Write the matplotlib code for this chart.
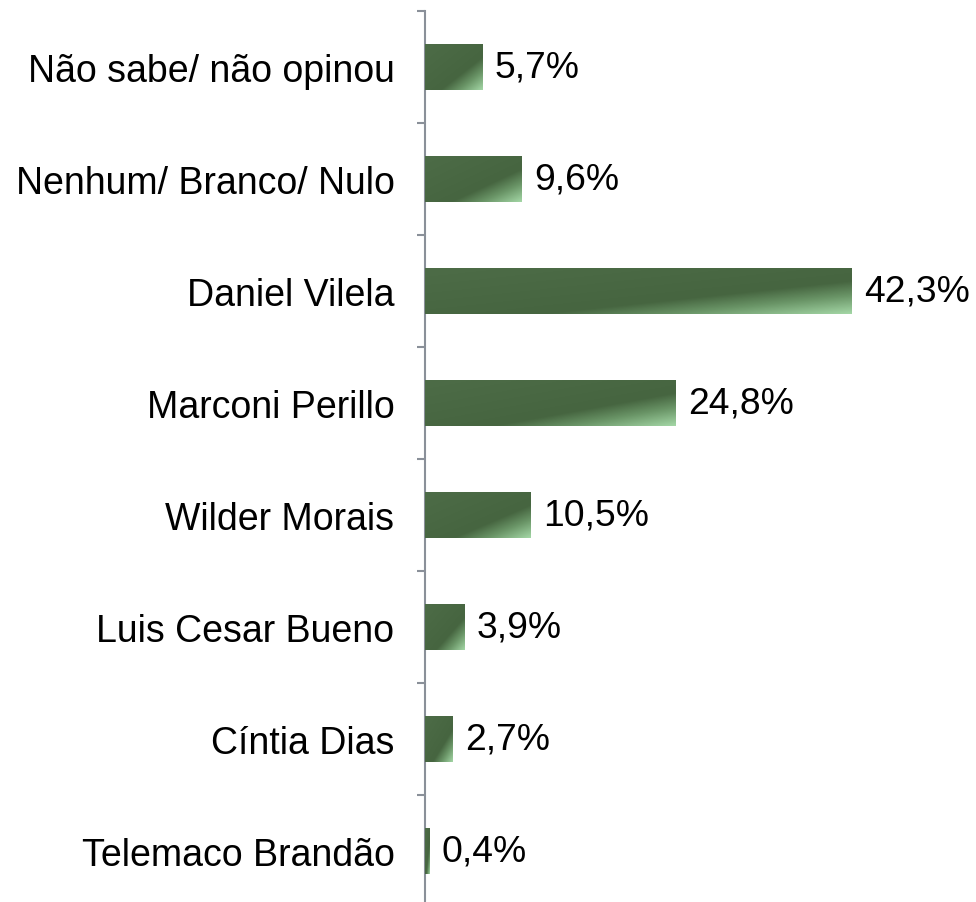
import numpy as np
import matplotlib
matplotlib.use("Agg")
import matplotlib.pyplot as plt
from matplotlib.colors import LinearSegmentedColormap

plt.rcParams["font.family"] = ["Liberation Sans", "DejaVu Sans"]

categories = ["Não sabe/ não opinou", "Nenhum/ Branco/ Nulo", "Daniel Vilela",
              "Marconi Perillo", "Wilder Morais", "Luis Cesar Bueno",
              "Cíntia Dias", "Telemaco Brandão"]
values = [5.7, 9.6, 42.3, 24.8, 10.5, 3.9, 2.7, 0.4]
labels = ["5,7%", "9,6%", "42,3%", "24,8%", "10,5%", "3,9%", "2,7%", "0,4%"]

green_cmap = LinearSegmentedColormap.from_list(
    "bar_green",
    [(0.0, "#4d6c47"), (0.64, "#466540"), (0.8, "#6a9567"), (1.0, "#a3d6a5")])

fig = plt.figure(figsize=(9.76, 9.03), dpi=100)
ax = fig.add_axes([425 / 976, -5 / 903, 454 / 976, 896 / 903])

ypos = np.arange(len(categories))
bars = ax.barh(ypos, values, height=0.41, color="#4a6a44", edgecolor="none")

# diagonal gradient inside each bar, light at the bottom-right corner
u = np.linspace(0, 1, 200)[None, :]
v = np.linspace(0, 1, 60)[:, None]
grad = (u + v) / 2
for bar in bars:
    x0, y0 = bar.get_x(), bar.get_y()
    w, h = bar.get_width(), bar.get_height()
    img = ax.imshow(grad, cmap=green_cmap, vmin=0, vmax=1, aspect="auto",
                    origin="upper", extent=(x0, x0 + w, y0 + h, y0),
                    interpolation="bilinear", zorder=3)
    img.set_clip_path(bar)

for y, val, lab in zip(ypos, values, labels):
    ax.annotate(lab, (val, y), xytext=(9, 0), textcoords="offset points",
                ha="left", va="center", fontsize=26.8, color="black",
                annotation_clip=False)

ax.set_xlim(0, 45)
ax.set_ylim(len(categories) - 0.5, -0.5)

for side in ["top", "right", "bottom"]:
    ax.spines[side].set_visible(False)
ax.spines["left"].set_color("#8a9099")
ax.spines["left"].set_linewidth(1.5)
ax.set_xticks([])

ax.set_yticks(np.arange(-0.5, len(categories) + 0.5, 1.0))
ax.set_yticklabels([])
ax.tick_params(axis="y", which="major", length=6, width=1.5, color="#8a9099")
ax.set_yticks(ypos, minor=True)
ax.set_yticklabels(categories, minor=True, fontsize=27)
ax.tick_params(axis="y", which="minor", length=0, pad=22)

fig.savefig("out.png", dpi=100)
